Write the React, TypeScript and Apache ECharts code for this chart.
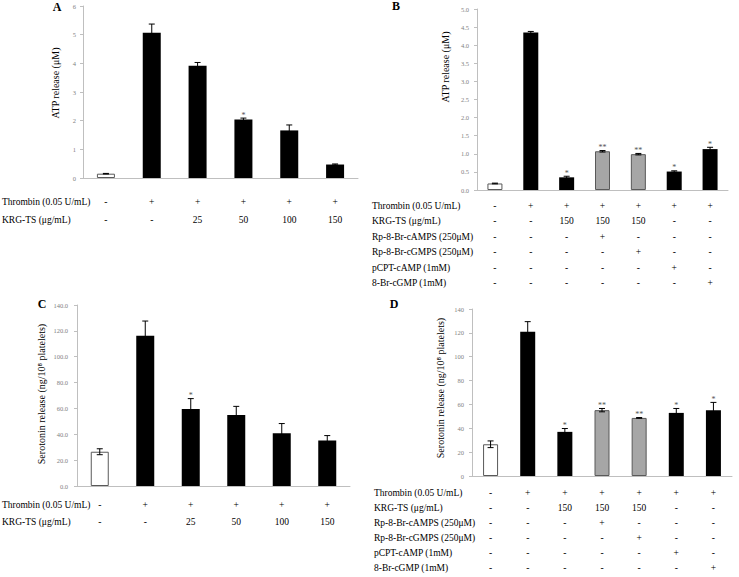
import React, { useEffect, useRef } from "react";
import * as echarts from "echarts";

// ---------- DATA ----------
const A_values = [0.15, 5.07, 3.92, 2.04, 1.66, 0.47];
const A_err = [0.01, 0.3, 0.11, 0.05, 0.19, 0.02];
const A_stars = ["", "", "", "*", "", ""];
const A_fill = ["open", "solid", "solid", "solid", "solid", "solid"];
const A_thrombin = ["-", "+", "+", "+", "+", "+"];
const A_krg = ["-", "-", "25", "50", "100", "150"];

const B_values = [0.18, 4.35, 0.35, 1.07, 0.99, 0.51, 1.13];
const B_err = [0.01, 0.03, 0.03, 0.02, 0.02, 0.02, 0.05];
const B_stars = ["", "", "*", "**", "**", "*", "*"];
const B_fill = ["open", "solid", "solid", "shaded", "shaded", "solid", "solid"];

const C_values = [26.5, 116.3, 59.6, 55.0, 40.8, 35.2];
const C_err = [2.3, 11.3, 8.0, 6.6, 7.5, 3.8];
const C_stars = ["", "", "*", "", "", ""];
const C_fill = ["open", "solid", "solid", "solid", "solid", "solid"];

const D_values = [26.6, 121.0, 37.0, 55.2, 48.7, 52.9, 55.2];
const D_err = [2.8, 8.4, 2.8, 1.4, 0.3, 3.7, 6.5];
const D_stars = ["", "", "*", "**", "**", "*", "*"];
const D_fill = ["open", "solid", "solid", "shaded", "shaded", "solid", "solid"];

const rowLabels6 = ["Thrombin (0.05 U/mL)", "KRG-TS (μg/mL)"];
const rowLabels7 = [
  "Thrombin (0.05 U/mL)",
  "KRG-TS (μg/mL)",
  "Rp-8-Br-cAMPS (250μM)",
  "Rp-8-Br-cGMPS (250μM)",
  "pCPT-cAMP (1mM)",
  "8-Br-cGMP (1mM)",
];
const T7_thrombin = ["-", "+", "+", "+", "+", "+", "+"];
const T7_krg = ["-", "-", "150", "150", "150", "-", "-"];
const T7_rpcamps = ["-", "-", "-", "+", "-", "-", "-"];
const T7_rpcgmps = ["-", "-", "-", "-", "+", "-", "-"];
const T7_pcpt = ["-", "-", "-", "-", "-", "+", "-"];
const T7_brcgmp = ["-", "-", "-", "-", "-", "-", "+"];

const yTitleATP = "ATP release (μM)";
const yTitleSer = "Serotonin release (ng/10⁸ platelets)";

// ---------- LAYOUT ----------
const FONT = "Liberation Serif";

type Panel = {
  letter: string;
  letterPos: [number, number];
  grid: { left: number; top: number; width: number; height: number };
  values: number[];
  err: number[];
  stars: string[];
  fill: string[];
  rows: string[][];
  rowLabels: string[];
  rowLabelX: number;
  labelMargin: number;
  lineHeight: number;
  yMax: number;
  yInterval: number;
  yDecimals: number;
  yLabelMargin: number;
  barWidth: number;
  title: string;
  titlePos: [number, number];
};

const panels: Panel[] = [
  {
    letter: "A",
    letterPos: [57, 7],
    grid: { left: 83, top: 6, width: 275, height: 172 },
    values: A_values,
    err: A_err,
    stars: A_stars,
    fill: A_fill,
    rows: [A_thrombin, A_krg],
    rowLabels: rowLabels6,
    rowLabelX: 2,
    labelMargin: 14.5,
    lineHeight: 18.4,
    yMax: 6,
    yInterval: 1,
    yDecimals: 0,
    yLabelMargin: 7,
    barWidth: 18,
    title: yTitleATP,
    titlePos: [55, 83],
  },
  {
    letter: "B",
    letterPos: [396, 6],
    grid: { left: 477, top: 9, width: 251, height: 181 },
    values: B_values,
    err: B_err,
    stars: B_stars,
    fill: B_fill,
    rows: [T7_thrombin, T7_krg, T7_rpcamps, T7_rpcgmps, T7_pcpt, T7_brcgmp],
    rowLabels: rowLabels7,
    rowLabelX: 372,
    labelMargin: 8.3,
    lineHeight: 15.4,
    yMax: 5,
    yInterval: 0.5,
    yDecimals: 1,
    yLabelMargin: 8,
    barWidth: 15,
    title: yTitleATP,
    titlePos: [445, 67],
  },
  {
    letter: "C",
    letterPos: [42, 304],
    grid: { left: 77, top: 305, width: 273, height: 181 },
    values: C_values,
    err: C_err,
    stars: C_stars,
    fill: C_fill,
    rows: [A_thrombin, A_krg],
    rowLabels: rowLabels6,
    rowLabelX: 2,
    labelMargin: 10.7,
    lineHeight: 16.7,
    yMax: 140,
    yInterval: 20,
    yDecimals: 1,
    yLabelMargin: 9,
    barWidth: 18,
    title: yTitleSer,
    titlePos: [41, 394],
  },
  {
    letter: "D",
    letterPos: [394, 304],
    grid: { left: 472, top: 309, width: 260, height: 167 },
    values: D_values,
    err: D_err,
    stars: D_stars,
    fill: D_fill,
    rows: [T7_thrombin, T7_krg, T7_rpcamps, T7_rpcgmps, T7_pcpt, T7_brcgmp],
    rowLabels: rowLabels7,
    rowLabelX: 374,
    labelMargin: 9.5,
    lineHeight: 15,
    yMax: 140,
    yInterval: 20,
    yDecimals: 0,
    yLabelMargin: 8,
    barWidth: 15,
    title: yTitleSer,
    titlePos: [440, 388],
  },
];

function fillStyle(kind: string) {
  if (kind === "open") return { color: "#ffffff", borderColor: "#595959", borderWidth: 1 };
  if (kind === "shaded") return { color: "#a6a6a6", borderColor: "#595959", borderWidth: 1 };
  return { color: "#000000", borderColor: "#000000", borderWidth: 0 };
}

export default function App() {
  const ref = useRef<HTMLDivElement>(null);

  useEffect(() => {
    if (!ref.current) return;
    const chart = echarts.init(ref.current, undefined, { renderer: "svg" });

    const grids: any[] = [];
    const xAxes: any[] = [];
    const yAxes: any[] = [];
    const series: any[] = [];
    const graphics: any[] = [];

    panels.forEach((p, pi) => {
      grids.push({ ...p.grid, containLabel: false });
      const cats = p.values.map((_, i) => String(i + 1));
      xAxes.push({
        type: "category",
        gridIndex: pi,
        data: cats,
        axisLine: { show: true, lineStyle: { color: "#bfbfbf", width: 1 } },
        axisTick: { show: false },
        splitLine: { show: false },
        axisLabel: {
          interval: 0,
          margin: p.labelMargin,
          lineHeight: p.lineHeight,
          fontSize: 9.5,
          fontFamily: FONT,
          color: "#000",
          formatter: (_v: string, idx: number) => p.rows.map((r) => r[idx]).join("\n"),
        },
      });
      yAxes.push({
        type: "value",
        gridIndex: pi,
        min: 0,
        max: p.yMax,
        interval: p.yInterval,
        splitLine: { show: false },
        axisLine: { show: true, lineStyle: { color: "#bfbfbf", width: 1 } },
        axisTick: { show: true, length: 3, lineStyle: { color: "#bfbfbf" } },
        axisLabel: {
          margin: p.yLabelMargin,
          fontSize: 6.5,
          fontFamily: FONT,
          color: "#7f7f7f",
          formatter: (v: number) => v.toFixed(p.yDecimals),
        },
      });
      series.push({
        type: "bar",
        xAxisIndex: pi,
        yAxisIndex: pi,
        barWidth: p.barWidth,
        data: p.values.map((v, i) => ({ value: v, itemStyle: fillStyle(p.fill[i]) })),
        z: 2,
      });
      series.push({
        type: "custom",
        xAxisIndex: pi,
        yAxisIndex: pi,
        z: 5,
        encode: { x: 0, y: 1 },
        data: p.values.map((v, i) => [i, v, p.err[i]]),
        renderItem: (params: any, api: any) => {
          const x = api.value(0);
          const v = api.value(1);
          const e = api.value(2);
          const top = api.coord([x, v + e]);
          const bot = api.coord([x, v - e]);
          const cap = 3;
          const ls = { stroke: "#000", lineWidth: 1 };
          const children: any[] = [
            { type: "line", shape: { x1: top[0], y1: top[1], x2: bot[0], y2: bot[1] }, style: ls },
            { type: "line", shape: { x1: top[0] - cap, y1: top[1], x2: top[0] + cap, y2: top[1] }, style: ls },
            { type: "line", shape: { x1: bot[0] - cap, y1: bot[1], x2: bot[0] + cap, y2: bot[1] }, style: ls },
          ];
          const s = p.stars[params.dataIndex];
          if (s) {
            children.push({
              type: "text",
              x: top[0],
              y: top[1] + 1,
              style: {
                text: s,
                fontSize: 8,
                fontFamily: FONT,
                fill: "#555",
                align: "center",
                verticalAlign: "bottom",
              },
            });
          }
          return { type: "group", children };
        },
      });

      // panel letter
      graphics.push({
        type: "text",
        x: p.letterPos[0],
        y: p.letterPos[1],
        style: {
          text: p.letter,
          fontSize: 12,
          fontWeight: "bold",
          fontFamily: FONT,
          fill: "#000",
          align: "center",
          verticalAlign: "middle",
        },
      });
      // y title
      graphics.push({
        type: "text",
        x: p.titlePos[0],
        y: p.titlePos[1],
        rotation: Math.PI / 2,
        style: {
          text: p.title,
          fontSize: 10,
          fontFamily: FONT,
          fill: "#000",
          align: "center",
          verticalAlign: "middle",
        },
      });
      // table row labels
      const baseY = p.grid.top + p.grid.height + p.labelMargin;
      p.rowLabels.forEach((lab, ri) => {
        graphics.push({
          type: "text",
          x: p.rowLabelX,
          y: baseY + p.lineHeight * (ri + 0.5),
          style: {
            text: lab,
            fontSize: 9.5,
            fontFamily: FONT,
            fill: "#000",
            align: "left",
            verticalAlign: "middle",
          },
        });
      });
    });

    chart.setOption({
      animation: false,
      backgroundColor: "#ffffff",
      grid: grids,
      xAxis: xAxes,
      yAxis: yAxes,
      series,
      graphic: graphics,
    });

    return () => chart.dispose();
  }, []);

  return (
    <div
      ref={ref}
      style={{ position: "fixed", left: 0, top: 0, width: 739, height: 577 }}
    />
  );
}
